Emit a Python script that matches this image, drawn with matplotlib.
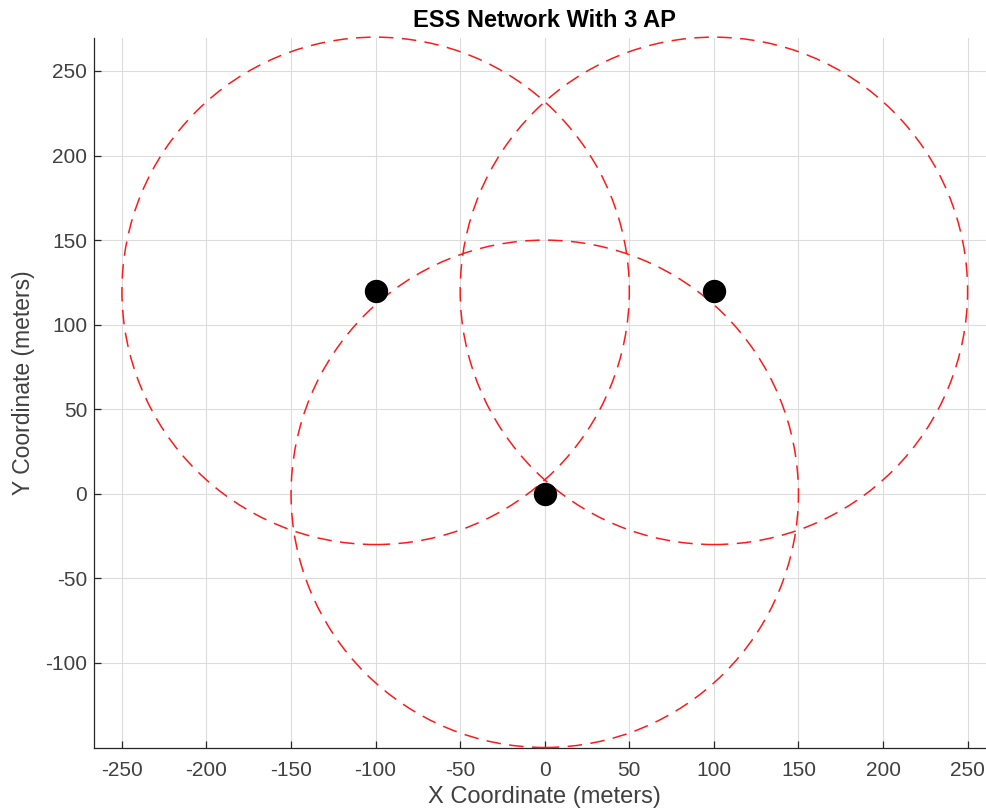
import matplotlib.pyplot as plt
from matplotlib.patches import Circle

# access point positions (meters) and coverage radius
ap_x = [-100, 100, 0]
ap_y = [120, 120, 0]
coverage_radius = [150, 150, 150]

x_ticks = [-250, -200, -150, -100, -50, 0, 50, 100, 150, 200, 250]
y_ticks = [-100, -50, 0, 50, 100, 150, 200, 250]

plt.rcParams['font.family'] = ['Liberation Sans', 'DejaVu Sans']
plt.rcParams['axes.unicode_minus'] = False

fig = plt.figure(figsize=(9.87, 8.11), dpi=100)
# axes runs a little past the right edge of the figure
ax = fig.add_axes([94 / 987, 63 / 811, 901 / 987, 710 / 811])

# coverage circles
for x, y, r in zip(ap_x, ap_y, coverage_radius):
    c = Circle((x, y), r, fill=False, edgecolor='#ff1a1a', linestyle=(0, (9.5, 5.5)),
               linewidth=1.1, zorder=3, clip_on=False)
    ax.add_patch(c)

# access points
ax.scatter(ap_x, ap_y, s=250, color='black', zorder=4)

ax.set_xlim(-266.5, 266.2)
ax.set_ylim(-150.3, 269.5)
ax.set_xticks(x_ticks)
ax.set_yticks(y_ticks)

ax.grid(True, color='#dcdcdc', linewidth=0.8)
ax.set_axisbelow(True)
for side in ['top', 'right']:
    ax.spines[side].set_visible(False)
for side in ['left', 'bottom']:
    ax.spines[side].set_color('#262626')
    ax.spines[side].set_linewidth(0.9)
ax.tick_params(direction='in', length=5, width=0.9, color='#262626',
               labelsize=15, labelcolor='#404040')
ax.tick_params(axis='x', pad=9)
ax.tick_params(axis='y', pad=5)

ax.set_title("ESS Network With 3 AP", fontsize=17, fontweight='bold', pad=8)
ax.set_xlabel("X Coordinate (meters)", fontsize=17, color='#404040', labelpad=5)
ax.set_ylabel("Y Coordinate (meters)", fontsize=16.5, color='#404040')
ax.yaxis.set_label_coords(-0.065, 0.514)

fig.savefig("out.png", dpi=100)
